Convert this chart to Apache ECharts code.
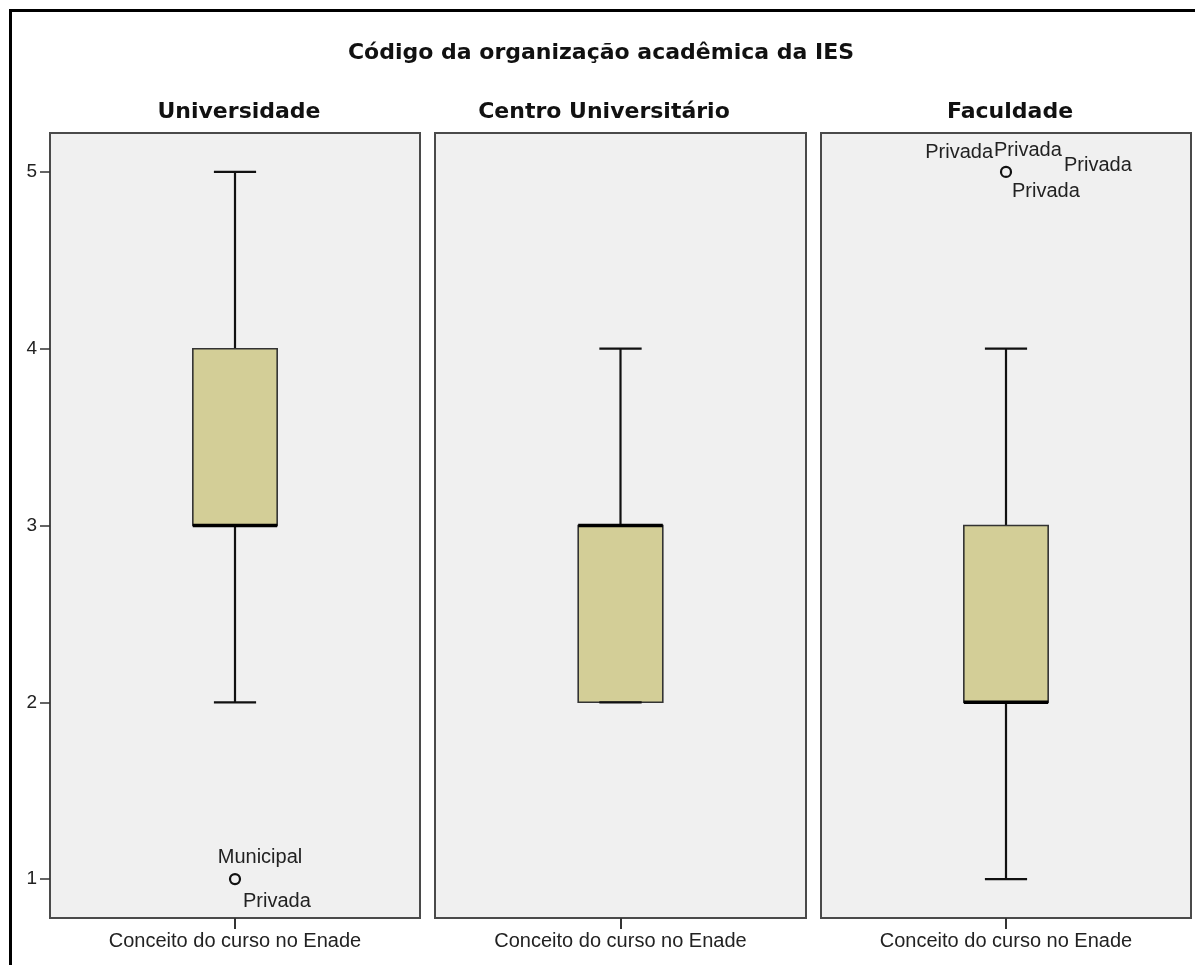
<!DOCTYPE html>
<html>
<head>
<meta charset="utf-8">
<script src="https://cdn.jsdelivr.net/npm/echarts@6/dist/echarts.min.js"></script>
<style>
html,body{margin:0;padding:0;background:#fff;}
#chart{width:1195px;height:965px;}
</style>
</head>
<body>
<div id="chart"></div>
<script>
// ---- data ----
const mainTitle = 'Código da organização acadêmica da IES';
const panels = ['Universidade', 'Centro Universitário', 'Faculdade'];
const category = ['Conceito do curso no Enade'];
const minVals = [2, 2, 1];
const q1Vals = [3, 2, 2];
const medianVals = [3, 3, 2];
const q3Vals = [4, 3, 3];
const maxVals = [5, 4, 4];
const outlierValues = [[1], [], [5]];
const outlierLabels = [[['Municipal', 'Privada']], [], [['Privada', 'Privada', 'Privada', 'Privada']]];
const yTicks = [1, 2, 3, 4, 5];

// ---- style / layout ----
const gridLefts = [50, 435, 821];
const gridWidths = [370, 371, 370];
const gridTop = 133, gridHeight = 785;
const panelTitleX = [239, 604, 1010];
const boxFill = '#d3ce97';
// label placement per panel per outlier label: [dx, dy, align]
const labelPlacement = [
  [[[25, -22, 'center'], [8, 22, 'left']]],
  [],
  [[[-13, -19, 'right'], [-12, -21, 'left'], [58, -6, 'left'], [6, 20, 'left']]]
];

const chart = echarts.init(document.getElementById('chart'));
const font = 'Liberation Sans, Arial, sans-serif';

const grids = [], xAxes = [], yAxes = [], series = [];
panels.forEach((p, i) => {
  grids.push({left: gridLefts[i], top: gridTop, width: gridWidths[i], height: gridHeight,
    show: true, backgroundColor: '#f0f0f0', borderColor: '#4a4a4a', borderWidth: 2});
  xAxes.push({type: 'category', gridIndex: i, data: category,
    axisLine: {show: false},
    axisTick: {show: true, alignWithLabel: true, length: 11, lineStyle: {color: '#333', width: 2}},
    axisLabel: {fontSize: 20, color: '#222', fontFamily: font, margin: 13},
    splitLine: {show: false}});
  yAxes.push({type: 'value', gridIndex: i, min: 0.78, max: 5.22,
    axisLine: {show: false},
    splitLine: {show: false},
    axisTick: {show: i === 0, length: 10, customValues: yTicks, lineStyle: {color: '#333', width: 1.5}},
    axisLabel: {show: i === 0, customValues: yTicks, fontSize: 19, color: '#222', fontFamily: font, margin: 13}});

  series.push({
    type: 'custom', xAxisIndex: i, yAxisIndex: i,
    data: [[0, minVals[i], q1Vals[i], medianVals[i], q3Vals[i], maxVals[i]]],
    encode: {x: 0, y: [1, 2, 3, 4, 5]},
    renderItem: function (params, api) {
      const cx = api.coord([0, api.value(3)])[0];
      const band = api.size([1, 0])[0];
      const bw = band * 0.228, cw = bw / 2;
      const y = v => api.coord([0, v])[1];
      const vmin = api.value(1), q1 = api.value(2), med = api.value(3), q3 = api.value(4), vmax = api.value(5);
      const ls = {stroke: '#111', lineWidth: 2.2};
      const ch = [];
      if (vmax > q3) ch.push({type: 'line', shape: {x1: cx, y1: y(q3), x2: cx, y2: y(vmax)}, style: ls});
      if (vmin < q1) ch.push({type: 'line', shape: {x1: cx, y1: y(q1), x2: cx, y2: y(vmin)}, style: ls});
      ch.push({type: 'line', shape: {x1: cx - cw / 2, y1: y(vmax), x2: cx + cw / 2, y2: y(vmax)}, style: ls});
      ch.push({type: 'rect', shape: {x: cx - bw / 2, y: y(q3), width: bw, height: y(q1) - y(q3)},
        style: {fill: boxFill, stroke: '#333', lineWidth: 1.6}});
      ch.push({type: 'line', shape: {x1: cx - cw / 2, y1: y(vmin), x2: cx + cw / 2, y2: y(vmin)}, style: ls});
      ch.push({type: 'line', shape: {x1: cx - bw / 2, y1: y(med), x2: cx + bw / 2, y2: y(med)},
        style: {stroke: '#000', lineWidth: 3.5}});
      return {type: 'group', children: ch};
    }
  });

  if (outlierValues[i].length) {
    series.push({
      type: 'custom', xAxisIndex: i, yAxisIndex: i,
      data: outlierValues[i].map((v, k) => [0, v, k]),
      encode: {x: 0, y: 1},
      renderItem: function (params, api) {
        const pt = api.coord([0, api.value(1)]);
        const k = api.value(2);
        const ch = [{type: 'circle', shape: {cx: pt[0], cy: pt[1], r: 5}, style: {fill: 'none', stroke: '#111', lineWidth: 2.2}}];
        outlierLabels[i][k].forEach((t, j) => {
          const pl = labelPlacement[i][k][j];
          ch.push({type: 'text', style: {text: t, x: pt[0] + pl[0], y: pt[1] + pl[1], align: pl[2], verticalAlign: 'middle',
            fontSize: 20, fontFamily: font, fill: '#222'}});
        });
        return {type: 'group', children: ch};
      }
    });
  }
});

const graphic = [
  {type: 'rect', shape: {x: 10.5, y: 10.5, width: 1400, height: 1200}, style: {fill: 'none', stroke: '#000', lineWidth: 3}, silent: true, z: 100},
  {type: 'text', style: {text: mainTitle, x: 601, y: 53, align: 'center', verticalAlign: 'middle', fontSize: 22, fontWeight: 'bold', fontFamily: 'DejaVu Sans, sans-serif', fill: '#111'}}
];
panels.forEach((p, i) => {
  graphic.push({type: 'text', style: {text: p, x: panelTitleX[i], y: 112, align: 'center', verticalAlign: 'middle',
    fontSize: 22, fontWeight: 'bold', fontFamily: 'DejaVu Sans, sans-serif', fill: '#111'}});
});

chart.setOption({
  animation: false,
  backgroundColor: '#fff',
  grid: grids, xAxis: xAxes, yAxis: yAxes, series: series, graphic: graphic
});
</script>
</body>
</html>
